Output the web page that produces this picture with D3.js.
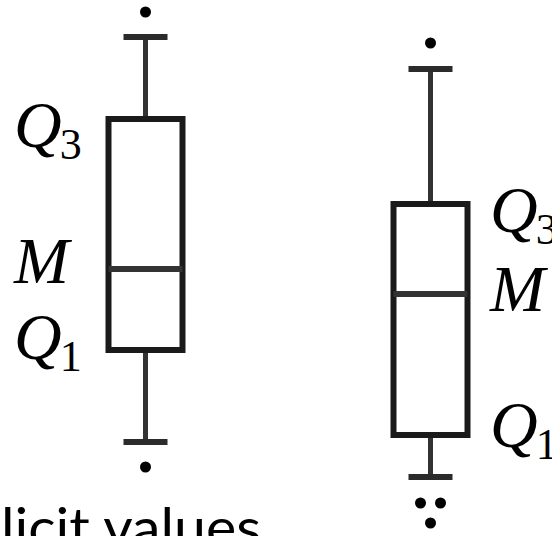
<!DOCTYPE html>
<html>
<head>
<meta charset="utf-8">
<script src="https://cdn.jsdelivr.net/npm/d3@7"></script>
<style>
  html, body { margin: 0; padding: 0; background: #fff; }
  svg { display: block; }
</style>
</head>
<body>
<div id="boxChart"></div>
<script>
// Two box plots with Q1 / M / Q3 labels (values in arbitrary units)

const boxes = ["left", "right"];
const upperOutliers = [[53.8], [50.7]];
const upperWhisker = [51.3, 48.1];
const q3 = [43.1, 34.6];
const median = [28.1, 25.6];
const q1 = [20.0, 11.5];
const lowerWhisker = [10.8, 7.3];
const lowerOutliers = [[8.3], [4.7, 4.7, 2.7]];
const labelSide = ["start", "end"];

const width = 552;
const height = 536;

const svg = d3.select("#boxChart")
  .append("svg")
  .attr("width", width)
  .attr("height", height);

const x = d3.scalePoint()
  .domain(boxes)
  .range([145.5, 430.5]);

const y = d3.scaleLinear()
  .domain([0, 55])
  .range([550, 0]);

const boxW = 74;
const capW = 44;
const ink = "#1a1a1a";

const data = boxes.map((b, i) => ({
  key: b,
  hi: upperWhisker[i],
  q3: q3[i],
  med: median[i],
  q1: q1[i],
  lo: lowerWhisker[i],
  outliers: upperOutliers[i].concat(lowerOutliers[i]),
  side: labelSide[i]
}));

const g = svg.append("g");

const box = g.selectAll("g.box")
  .data(data)
  .join("g")
  .attr("class", "box");

// whiskers
box.append("line")
  .attr("x1", d => x(d.key)).attr("x2", d => x(d.key))
  .attr("y1", d => y(d.hi)).attr("y2", d => y(d.q3))
  .attr("stroke", "#333").attr("stroke-width", 5);

box.append("line")
  .attr("x1", d => x(d.key)).attr("x2", d => x(d.key))
  .attr("y1", d => y(d.q1)).attr("y2", d => y(d.lo))
  .attr("stroke", "#333").attr("stroke-width", 5);

// caps
box.selectAll("line.cap")
  .data(d => [d.hi, d.lo].map(v => ({ key: d.key, v })))
  .join("line")
  .attr("class", "cap")
  .attr("x1", d => x(d.key) - capW / 2)
  .attr("x2", d => x(d.key) + capW / 2)
  .attr("y1", d => y(d.v)).attr("y2", d => y(d.v))
  .attr("stroke", "#2b2b2b").attr("stroke-width", 6);

// box
box.append("rect")
  .attr("x", d => x(d.key) - boxW / 2)
  .attr("y", d => y(d.q3))
  .attr("width", boxW)
  .attr("height", d => y(d.q1) - y(d.q3))
  .attr("fill", "#fff")
  .attr("stroke", ink)
  .attr("stroke-width", 6);

// median
box.append("line")
  .attr("x1", d => x(d.key) - boxW / 2)
  .attr("x2", d => x(d.key) + boxW / 2)
  .attr("y1", d => y(d.med)).attr("y2", d => y(d.med))
  .attr("stroke", "#333").attr("stroke-width", 6);

// outliers: equal values are set side by side
box.selectAll("circle")
  .data(d => {
    const counts = d3.rollup(d.outliers, v => v.length, v => v);
    const seen = new Map();
    return d.outliers.map(v => {
      const n = counts.get(v);
      const k = seen.get(v) || 0;
      seen.set(v, k + 1);
      return { key: d.key, v, off: (k - (n - 1) / 2) * 20 };
    });
  })
  .join("circle")
  .attr("cx", d => x(d.key) + d.off)
  .attr("cy", d => y(d.v))
  .attr("r", 5.5)
  .attr("fill", "#000");

// Q3 / M / Q1 labels
const labelFont = "'Liberation Serif', 'DejaVu Serif', serif";
const labels = [
  { main: "Q", sub: "3", field: "q3", dy: [28, 28] },
  { main: "M", sub: "", field: "med", dy: [14, 17] },
  { main: "Q", sub: "1", field: "q1", dy: [9, 12] }
];
const labelX = [14, 490];

data.forEach((d, i) => {
  labels.forEach(l => {
    const t = svg.append("text")
      .attr("x", labelX[i])
      .attr("y", y(d[l.field]) + l.dy[i])
      .style("font-family", labelFont)
      .style("font-style", "italic")
      .style("font-size", "66px")
      .attr("fill", "#000");
    t.append("tspan").text(l.main);
    if (l.sub) {
      t.append("tspan")
        .attr("dx", -2)
        .attr("dy", 12)
        .style("font-style", "normal")
        .style("font-size", "44px")
        .text(l.sub);
    }
  });
});

// cut-off caption at the bottom
svg.append("text")
  .attr("x", 1)
  .attr("y", 547)
  .style("font-family", "Lato, 'Open Sans', sans-serif")
  .style("font-size", "54px")
  .attr("textLength", 260)
  .attr("lengthAdjust", "spacingAndGlyphs")
  .attr("fill", "#000")
  .text("licit values");
</script>
</body>
</html>
